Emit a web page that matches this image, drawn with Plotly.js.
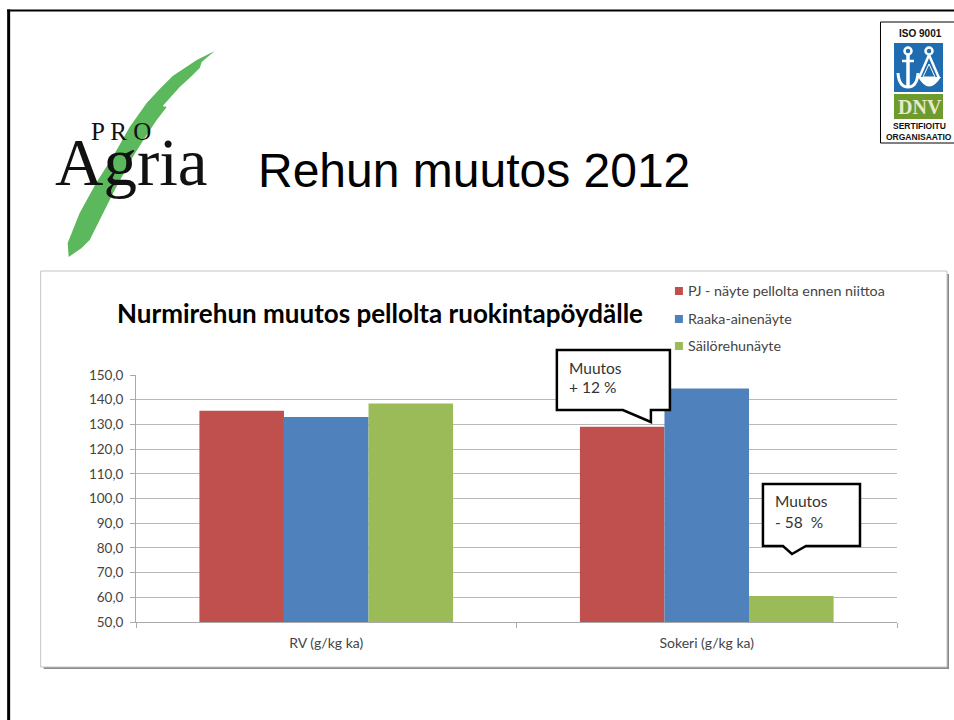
<!DOCTYPE html>
<html><head><meta charset="utf-8">
<script src="https://cdn.plot.ly/plotly-3.0.1.min.js"></script>
<style>html,body{margin:0;padding:0;background:#fff;overflow:hidden}</style>
</head><body><div id="chart" style="width:954px;height:720px"></div>
<script>
const categories = ['RV (g/kg ka)', 'Sokeri (g/kg ka)'];
const seriesNames = ['PJ - näyte pellolta ennen niittoa', 'Raaka-ainenäyte', 'Säilörehunäyte'];
const pjValues = [135.5, 129.0];
const raakaValues = [133.0, 144.5];
const sailoValues = [138.5, 60.5];
const seriesColors = ['#C0504D', '#4F81BD', '#9BBB59'];
const yTicks = [50,60,70,80,90,100,110,120,130,140,150];

const W = 954, H = 720, mL = 136.3, mR = 57, mT = 375, mB = 98;
const fx = x => (x - mL) / (W - mL - mR);
const fy = y => 1 - (y - mT) / (H - mT - mB);
const P = (pts, close) => pts.map((p,i) => (i ? 'L' : 'M') + fx(p[0]) + ',' + fy(p[1])).join(' ') + (close ? ' Z' : '');
const Q = (a,c,b) => `M${fx(a[0])},${fy(a[1])} Q${fx(c[0])},${fy(c[1])} ${fx(b[0])},${fy(b[1])}`;
const base = {xref:'paper', yref:'paper'};
const rect = (x0,y0,x1,y1,fill,line,lw,layer) => ({...base,type:'rect',x0:fx(x0),x1:fx(x1),y0:fy(y0),y1:fy(y1),
  fillcolor:fill,line:{color:line||fill,width:lw===undefined?0:lw},layer:layer||'above'});
const path = (d,fill,line,lw,layer) => ({...base,type:'path',path:d,fillcolor:fill||'rgba(0,0,0,0)',line:{color:line||'rgba(0,0,0,0)',width:lw||0},layer:layer||'above'});
const circ = (cx,cy,r,line,lw) => ({...base,type:'circle',x0:fx(cx-r),x1:fx(cx+r),y0:fy(cy+r),y1:fy(cy-r),fillcolor:'rgba(0,0,0,0)',line:{color:line,width:lw},layer:'above'});
const txt = (text,x,y,size,color,family,anchor,bold) => ({xref:'paper',yref:'paper',x:fx(x),y:fy(y),text:bold?`<b>${text}</b>`:text,showarrow:false,
  xanchor:anchor||'left',yanchor:'middle',font:{size:size,color:color||'#000',family:family||'Lato'},borderpad:0,borderwidth:0,captureevents:false});

const leaf = [[215,51],[197,60],[173,76],[160,89],[147,103],[130,127],[113,157],[97,182],[80,213],[68,243],[69,257],[82,248],[90,240],[100,220],[115,190],[133,157],[145,138],[157,120],[167,107],[163,106],[180,87],[192,76],[200,68],[202,62]];

const shapes = [
  rect(7.5,9.5,954,11.5,'#000','#000',0,'below'),
  rect(7.5,9.5,10.5,720,'#000','#000',0,'below'),
  rect(44,274,949,669,'#8a8a8a',null,0,'below'),
  rect(41,271,947,667,'#ffffff','#c4c4c4',1,'below'),
  path(P(leaf,true),'#5CB85C',null,0,'below'),
  rect(880.5,22,954.5,143,'#ffffff','#000',1),
  rect(894,43,943,92,'#1F6DB0'),
  rect(894,94,943,119,'#6E9A2E'),
  circ(908,51,3.5,'#fff',2.5),
  path(P([[908,55],[908,86]]),null,'#fff',3.5),
  path(P([[902,61],[914,61]]),null,'#fff',2.5),
  path(Q([898,73],[899,87],[908,87]),null,'#fff',3),
  path(Q([908,87],[917,87],[918,73]),null,'#fff',3),
  circ(929,51,3.5,'#fff',2.5),
  path(P([[929,55],[919,78]]),null,'#fff',2.5),
  path(P([[929,55],[939,78]]),null,'#fff',2.5),
  path(P([[929,64],[923,77],[935,77]],true),null,'#fff',1),
  path(`M${fx(918)},${fy(77)} Q${fx(929)},${fy(96)} ${fx(941)},${fy(77)} Z`,'#fff',null,0),
  ...seriesColors.map((c,i) => rect(675,[287,315,342][i],683,[295,323,350][i],c)),
  path(P([[557,350],[670,350],[670,410],[651,410],[651,422],[623,410],[557,410]],true),'#fff','#000',2.5),
  path(P([[763,484],[860,484],[860,546],[806,546],[792,554],[783,546],[763,546]],true),'#fff','#000',2.5)
];

const annotations = [
  txt('Rehun muutos 2012',258,170,48,'#000','Liberation Sans'),
  txt('Nurmirehun muutos pellolta ruokintapöydälle',117,313,26,'#000','Lato','left',true),
  txt('P R O',91,131,25,'#111','Liberation Serif'),
  txt('Agria',55,162,67,'#111','Liberation Serif'),
  txt('ISO 9001',920,33,10,'#111','Liberation Sans','center',true),
  txt('DNV',919.5,107,20,'#E4EBCB','Liberation Serif','center',true),
  txt('SERTIFIOITU',919,126,8.5,'#111','Liberation Sans','center',true),
  txt('ORGANISAATIO',919,137,8.5,'#111','Liberation Sans','center',true),
  txt(seriesNames[0],688,290,14.3,'#444'),
  txt(seriesNames[1],688,318,14.3,'#444'),
  txt(seriesNames[2],688,345,14.3,'#444'),
  txt('Muutos',569,368,15.5,'#333'),
  txt('+ 12 %',569,387,15.5,'#333'),
  txt('Muutos',775,501,15.5,'#333'),
  txt('- 58  %',775,522,15.5,'#333')
];

const traces = [pjValues, raakaValues, sailoValues].map((v,i) => ({
  type:'bar', name:seriesNames[i], x:categories, y:v, marker:{color:seriesColors[i], line:{width:0}}
}));

Plotly.newPlot('chart', traces, {
  width:W, height:H, autosize:false, showlegend:false,
  margin:{l:mL,r:mR,t:mT,b:mB,pad:0},
  paper_bgcolor:'#ffffff', plot_bgcolor:'rgba(0,0,0,0)',
  barmode:'group', bargap:1/3, bargroupgap:0, separators:', ',
  font:{family:'Lato',color:'#444',size:13},
  xaxis:{type:'category',tickson:'boundaries',ticks:'outside',ticklen:5,tickcolor:'#aaa',tickwidth:1,
    showline:true,linecolor:'#aaa',linewidth:1,showgrid:false,zeroline:false,
    tickfont:{family:'Lato',size:14,color:'#444'},ticklabelstandoff:8},
  yaxis:{range:[50,150],tickvals:yTicks,tickformat:'.1f',ticks:'outside',ticklen:5,tickcolor:'#aaa',tickwidth:1,
    showline:true,linecolor:'#aaa',linewidth:1,showgrid:true,gridcolor:'#b8b8b8',gridwidth:1,zeroline:false,
    tickfont:{family:'Lato',size:13.5,color:'#444'},ticklabelstandoff:4},
  shapes:shapes, annotations:annotations
}, {displayModeBar:false, responsive:false, staticPlot:true});
</script></body></html>
